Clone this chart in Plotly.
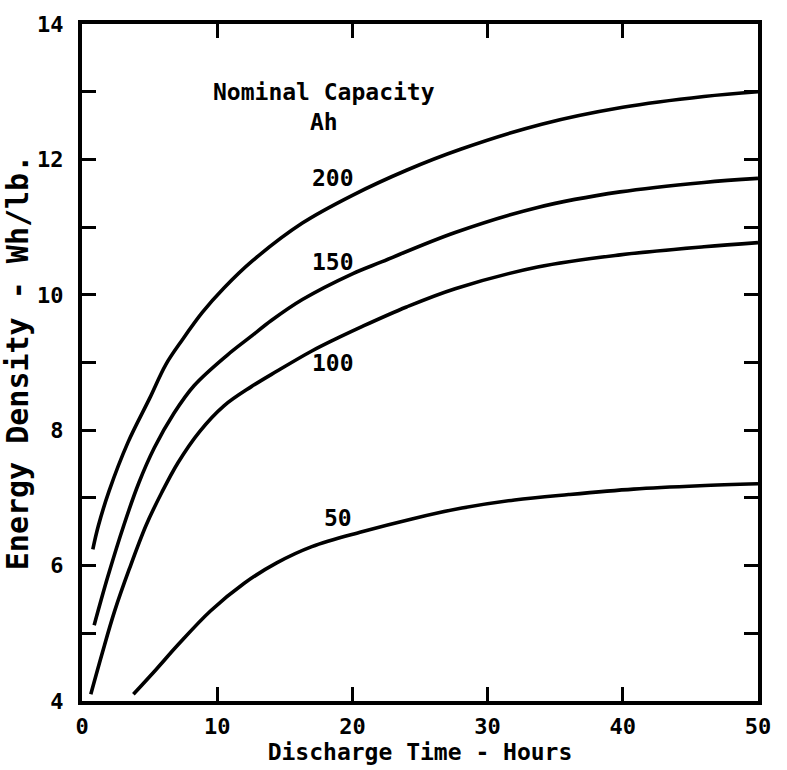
import plotly.graph_objects as go

# ---- data ----
x200 = [0.8, 1.2, 2.0, 3.4, 5.0, 6.2, 7.4, 8.9, 10.5, 12.6, 16.3, 20.0, 24.0, 28.0, 34.0, 40.0, 46.0, 50.0]
y200 = [6.24, 6.58, 7.1, 7.82, 8.47, 8.97, 9.33, 9.74, 10.1, 10.5, 11.06, 11.47, 11.84, 12.15, 12.52, 12.77, 12.93, 13.0]

x150 = [0.9, 1.9, 3.1, 4.2, 5.35, 6.8, 8.3, 10.75, 12.6, 14.0, 16.3, 20.0, 22.2, 27.6, 33.7, 39.8, 46.0, 50.0]
y150 = [5.12, 5.83, 6.6, 7.22, 7.74, 8.25, 8.66, 9.11, 9.4, 9.62, 9.93, 10.31, 10.49, 10.92, 11.29, 11.52, 11.66, 11.72]

x100 = [0.65, 1.5, 2.4, 3.5, 4.75, 5.9, 7.1, 8.7, 10.5, 12.5, 14.4, 17.0, 19.0, 20.7, 24.0, 27.6, 33.7, 39.8, 46.0, 50.0]
y100 = [4.10, 4.71, 5.32, 5.95, 6.6, 7.08, 7.52, 7.98, 8.36, 8.64, 8.87, 9.17, 9.37, 9.53, 9.82, 10.09, 10.41, 10.59, 10.71, 10.77]

x50 = [3.8, 5.5, 7.1, 9.5, 12.0, 14.4, 17.0, 20.7, 24.4, 28.1, 32.0, 36.0, 40.8, 45.7, 50.0]
y50 = [4.10, 4.47, 4.83, 5.33, 5.74, 6.04, 6.28, 6.50, 6.69, 6.85, 6.97, 7.05, 7.13, 7.18, 7.21]

capacities = ["200", "150", "100", "50"]
series_x = [x200, x150, x100, x50]
series_y = [y200, y150, y100, y50]

x_ticks = [0, 10, 20, 30, 40, 50]
y_ticks = [4, 5, 6, 7, 8, 9, 10, 11, 12, 13, 14]
y_tick_text = ["4", "", "6", "", "8", "", "10", "", "12", "", "14"]

x_title = "Discharge Time - Hours"
y_title = "Energy Density - Wh/lb."
legend_title = "Nominal Capacity<br>Ah"

# label anchor positions (data coords) for curve labels
label_pos = {"200": (18.55, 11.72), "150": (18.6, 10.48), "100": (18.55, 9.0), "50": (18.95, 6.71)}

FONT = "DejaVu Sans Mono"

fig = go.Figure()
for name, xs, ys in zip(capacities, series_x, series_y):
    fig.add_trace(go.Scatter(
        x=xs, y=ys, mode="lines", name=name,
        line=dict(color="black", width=3.6, shape="spline", smoothing=1.0),
        showlegend=False, hoverinfo="skip",
    ))

for name in capacities:
    lx, ly = label_pos[name]
    fig.add_annotation(x=lx, y=ly, xref="x", yref="y", text=name, showarrow=False,
                       font=dict(family=FONT, size=23, color="black", weight="bold"),
                       xanchor="center", yanchor="middle")

fig.add_annotation(x=(322 - 79) / 679, y=1 - (108 - 24) / 682, xref="paper", yref="paper",
                   text=legend_title, showarrow=False, align="center",
                   font=dict(family=FONT, size=23, color="black", weight="bold"),
                   xanchor="center", yanchor="middle")

axis_common = dict(
    showline=True, linecolor="black", linewidth=4, mirror="ticks",
    ticks="inside", ticklen=14, tickwidth=3, tickcolor="black",
    showgrid=False, zeroline=False,
    tickfont=dict(family=FONT, size=22, color="black", weight="bold"),
)

fig.update_xaxes(range=[0, 50], tickvals=x_ticks, ticktext=[str(v) for v in x_ticks],
                 ticklabelstandoff=3,
                 title=dict(text=x_title, standoff=2,
                            font=dict(family=FONT, size=23, color="black", weight="bold")),
                 **axis_common)
fig.update_yaxes(range=[4, 14], tickvals=y_ticks, ticktext=y_tick_text,
                 ticklabelstandoff=10,
                 title=dict(text=y_title, standoff=4,
                            font=dict(family=FONT, size=30, color="black", weight="bold")),
                 **axis_common)

fig.update_layout(
    width=787, height=770,
    margin=dict(l=79, r=29, t=24, b=64),
    paper_bgcolor="white", plot_bgcolor="white",
)

fig.write_html("out.html")
